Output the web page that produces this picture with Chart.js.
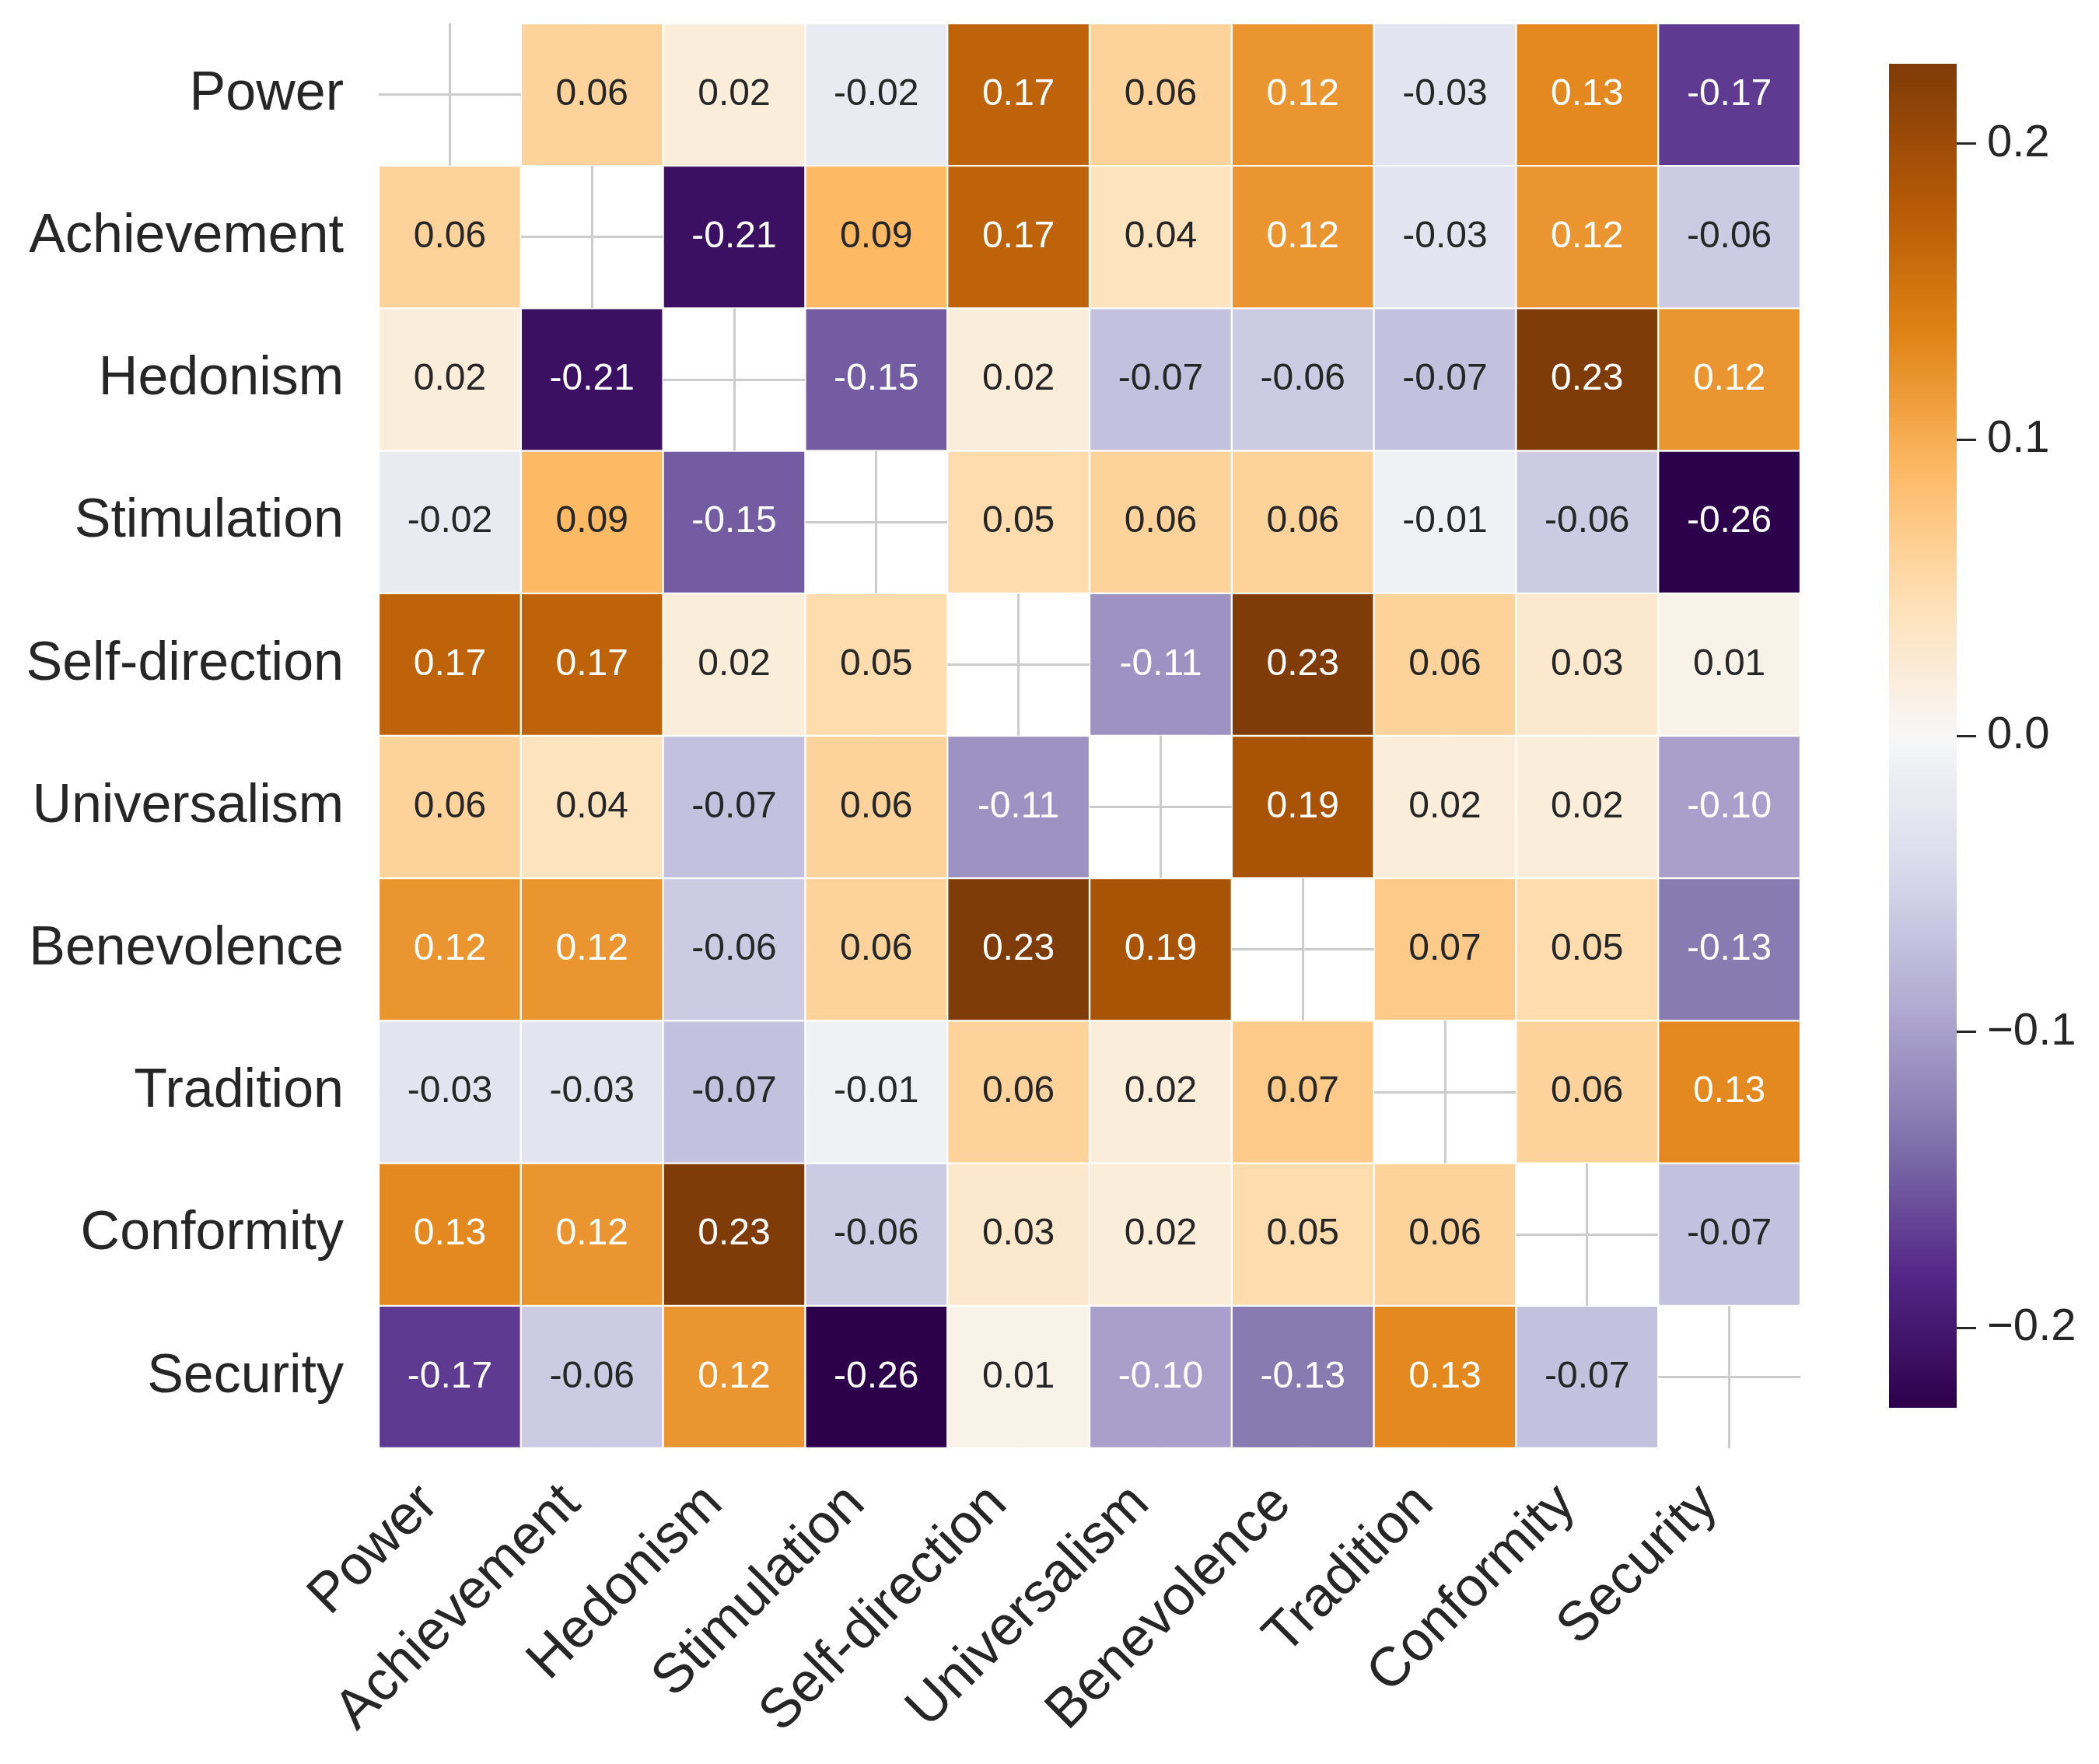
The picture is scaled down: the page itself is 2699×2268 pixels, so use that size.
<!DOCTYPE html>
<html>
<head>
<meta charset="utf-8">
<script src="https://cdn.jsdelivr.net/npm/chart.js@4.4.0/dist/chart.umd.min.js"></script>
<style>
  html, body { margin: 0; padding: 0; background: #fff; }
  #heat-box { position: absolute; left: 0; top: 0; width: 2699px; height: 2268px; }
  #cbar-box { position: absolute; left: 2330px; top: 0; width: 369px; height: 2268px; }
</style>
</head>
<body>
<div id="heat-box"><canvas id="heat-chart"></canvas></div>
<div id="cbar-box"><canvas id="cbar-chart"></canvas></div>
<script>
// Values, rows top to bottom, columns left to right (diagonal is masked)
const values = ["Power", "Achievement", "Hedonism", "Stimulation", "Self-direction",
                "Universalism", "Benevolence", "Tradition", "Conformity", "Security"];
const corr = [
  [null, 0.06, 0.02, -0.02, 0.17, 0.06, 0.12, -0.03, 0.13, -0.17],
  [0.06, null, -0.21, 0.09, 0.17, 0.04, 0.12, -0.03, 0.12, -0.06],
  [0.02, -0.21, null, -0.15, 0.02, -0.07, -0.06, -0.07, 0.23, 0.12],
  [-0.02, 0.09, -0.15, null, 0.05, 0.06, 0.06, -0.01, -0.06, -0.26],
  [0.17, 0.17, 0.02, 0.05, null, -0.11, 0.23, 0.06, 0.03, 0.01],
  [0.06, 0.04, -0.07, 0.06, -0.11, null, 0.19, 0.02, 0.02, -0.10],
  [0.12, 0.12, -0.06, 0.06, 0.23, 0.19, null, 0.07, 0.05, -0.13],
  [-0.03, -0.03, -0.07, -0.01, 0.06, 0.02, 0.07, null, 0.06, 0.13],
  [0.13, 0.12, 0.23, -0.06, 0.03, 0.02, 0.05, 0.06, null, -0.07],
  [-0.17, -0.06, 0.12, -0.26, 0.01, -0.10, -0.13, 0.13, -0.07, null]
];
const cbarRange = [-0.227, 0.227];
const cbarTicks = [-0.2, -0.1, 0, 0.1, 0.2];

const FONT = "'Liberation Sans', Arial, sans-serif";
const INK = "#262626";

// PuOr_r colormap stops (purple -> white -> brown)
const puor = [
  [0.498, 0.231, 0.031], [0.702, 0.345, 0.024], [0.878, 0.510, 0.078],
  [0.992, 0.722, 0.388], [0.996, 0.878, 0.714], [0.969, 0.969, 0.969],
  [0.847, 0.855, 0.922], [0.698, 0.671, 0.824], [0.502, 0.451, 0.675],
  [0.329, 0.153, 0.533], [0.176, 0.0, 0.294]
].reverse();

function cmapRgb(t) {
  t = Math.min(1, Math.max(0, t));
  let pos = t * (puor.length - 1);
  let i = Math.min(Math.floor(pos), puor.length - 2);
  let f = pos - i;
  return puor[i].map((a, k) => a + (puor[i + 1][k] - a) * f);
}
function toCss(rgb) {
  return "rgb(" + rgb.map(c => Math.round(c * 255)).join(",") + ")";
}
function valueRgb(v) {
  return cmapRgb((v - cbarRange[0]) / (cbarRange[1] - cbarRange[0]));
}
function luminance(rgb) {
  let lin = rgb.map(c => c <= 0.03928 ? c / 12.92 : Math.pow((c + 0.055) / 1.055, 2.4));
  return 0.2126 * lin[0] + 0.7152 * lin[1] + 0.0722 * lin[2];
}
// no extra room for half labels at the ends
function noPad(s) {
  s.paddingTop = 0; s.paddingBottom = 0; s.paddingLeft = 0; s.paddingRight = 0;
}

// write numbers in the cells
const cellText = {
  id: "cellText",
  afterDatasetsDraw(chart) {
    let ctx = chart.ctx;
    ctx.save();
    ctx.font = "48px " + FONT;
    ctx.textAlign = "center";
    ctx.textBaseline = "middle";
    corr.forEach((row, r) => {
      let meta = chart.getDatasetMeta(r);
      meta.data.forEach((bar, c) => {
        let v = row[c];
        if (v === null) return;
        let p = bar.getProps(["x", "y", "base"], true);
        ctx.fillStyle = luminance(valueRgb(v)) > 0.408 ? INK : "#ffffff";
        ctx.fillText(v.toFixed(2), p.x, (p.y + p.base) / 2);
      });
    });
    ctx.restore();
  }
};

let heatId = document.getElementById("heat-chart");
let HeatChart = new Chart(heatId, {
  type: "bar",
  data: {
    labels: values,
    datasets: corr.map((row, r) => ({
      label: values[r],
      data: row.map(v => v === null ? null : [r, r + 1]),
      backgroundColor: row.map(v => v === null ? "rgba(0,0,0,0)" : toCss(valueRgb(v))),
      borderColor: "#ffffff",
      borderWidth: 1.5,
      borderSkipped: false,
      grouped: false,
      barPercentage: 1,
      categoryPercentage: 1
    }))
  },
  options: {
    responsive: true,
    maintainAspectRatio: false,
    devicePixelRatio: 1,
    animation: false,
    layout: { padding: { left: 0, top: 30, right: 2699 - 2315, bottom: 0 } },
    plugins: { legend: { display: false }, tooltip: { enabled: false } },
    scales: {
      x: {
        type: "category",
        offset: true,
        grid: { offset: false, color: "#cccccc", lineWidth: 3, drawTicks: false },
        border: { display: false },
        ticks: {
          autoSkip: false, maxRotation: 45, minRotation: 45, padding: 30, labelOffset: -26,
          color: INK, font: { family: FONT, size: 71 }
        },
        afterFit: s => { s.height = 2268 - 1862; noPad(s); }
      },
      y: {
        type: "linear",
        min: 0,
        max: 10,
        reverse: true,
        afterBuildTicks: s => { s.ticks = values.map((_, i) => ({ value: i + 0.5 })); },
        afterFit: s => { s.width = 487; noPad(s); },
        grid: { color: "#cccccc", lineWidth: 3, drawTicks: false },
        border: { display: false },
        ticks: {
          autoSkip: false, padding: 45, color: INK,
          font: { family: FONT, size: 70 },
          callback: (v, i) => values[i]
        }
      }
    }
  },
  plugins: [cellText]
});

// Colour bar
let cbarId = document.getElementById("cbar-chart");
let CbarChart = new Chart(cbarId, {
  type: "bar",
  data: {
    labels: [""],
    datasets: [{
      data: [cbarRange],
      borderWidth: 0,
      barPercentage: 1,
      categoryPercentage: 1,
      backgroundColor: ctx => {
        let area = ctx.chart.chartArea;
        if (!area) return "#888";
        let g = ctx.chart.ctx.createLinearGradient(0, area.bottom, 0, area.top);
        for (let k = 0; k <= 40; k++) g.addColorStop(k / 40, toCss(cmapRgb(k / 40)));
        return g;
      }
    }]
  },
  options: {
    responsive: true,
    maintainAspectRatio: false,
    devicePixelRatio: 1,
    animation: false,
    layout: { padding: { left: 99, top: 82, right: 0, bottom: 2268 - 1810 } },
    plugins: { legend: { display: false }, tooltip: { enabled: false } },
    scales: {
      x: { display: false },
      y: {
        position: "right",
        min: cbarRange[0],
        max: cbarRange[1],
        afterBuildTicks: s => { s.ticks = cbarTicks.map(v => ({ value: v })); },
        afterFit: s => { s.width = 183; noPad(s); },
        grid: { drawOnChartArea: false, drawTicks: true, tickLength: 25, color: INK, lineWidth: 3 },
        border: { display: false },
        ticks: {
          padding: 14, color: INK, font: { family: FONT, size: 58 },
          callback: v => (v < 0 ? "\u2212" : "") + Math.abs(v).toFixed(1)
        }
      }
    }
  }
});
</script>
</body>
</html>
